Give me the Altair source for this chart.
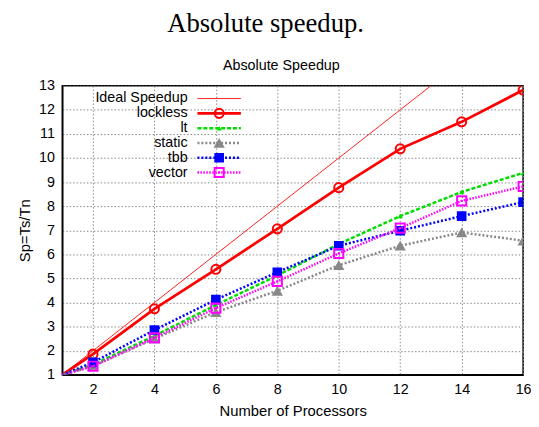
import altair as alt
import pandas as pd

# ---- data ----
procs = [1, 2, 4, 6, 8, 10, 12, 14, 16]
ideal = [1, 2, 4, 6, 8, 10, 12, 14, 16]
lockless = [1, 1.86, 3.74, 5.38, 7.06, 8.77, 10.38, 11.50, 12.82]
lt = [1, 1.42, 2.62, 3.90, 5.12, 6.43, 7.59, 8.59, 9.38]
static = [1, 1.36, 2.50, 3.60, 4.49, 5.55, 6.36, 6.91, 6.57]
tbb = [1, 1.52, 2.86, 4.12, 5.26, 6.36, 6.98, 7.59, 8.17]
vector = [1, 1.36, 2.54, 3.77, 4.88, 6.04, 7.09, 8.22, 8.82]

series_names = ["Ideal Speedup", "lockless", "lt", "static", "tbb", "vector"]
series_values = [ideal, lockless, lt, static, tbb, vector]
x_ticks = [2, 4, 6, 8, 10, 12, 14, 16]
y_ticks = list(range(1, 14))
titles = ["Absolute speedup.", "Absolute Speedup"]
x_title = "Number of Processors"
y_title = "Sp=Ts/Tn"

rows = []
for name, vals in zip(series_names, series_values):
    for p, v in zip(procs, vals):
        rows.append({"series": name, "procs": p, "speedup": v})
df = pd.DataFrame(rows)
legend_df = pd.DataFrame({"series": series_names})

W, H = 467, 293
FONT = "Liberation Sans"

styles = {
    "Ideal Speedup": dict(color="#ff2020", width=1, dash=None, shape=None),
    "lockless": dict(color="#ff0000", width=2.8, dash=None, shape="circle", filled=False, size=85, dot=True),
    "lt": dict(color="#00dd00", width=2.5, dash=[4, 2], shape="triangle-up", filled=True, size=28, dot=False),
    "static": dict(color="#888888", width=2.5, dash=[2, 2], shape="triangle-up", filled=True, size=130, dot=False),
    "tbb": dict(color="#0000ff", width=2.5, dash=[2, 2], shape="square", filled=True, size=95, dot=False),
    "vector": dict(color="#ff00ff", width=2.5, dash=[1.5, 1.5], shape="square", filled=False, size=85, dot=True),
}

xscale = alt.Scale(domain=[1, 16], nice=False, zero=False)
yscale = alt.Scale(domain=[1, 13], nice=False, zero=False)
legend_y = alt.Scale(type="point", domain=series_names, range=[13, 88], padding=0)

x_enc = alt.X("procs:Q", scale=xscale, title=x_title,
              axis=alt.Axis(values=x_ticks, grid=True, title=x_title, labelFlush=False))

layers = []

# axes + grid layer
axis_layer = alt.Chart(df).mark_point(opacity=0).encode(
    x=x_enc,
    y=alt.Y("speedup:Q", scale=yscale, title=y_title,
            axis=alt.Axis(values=y_ticks, grid=True, labelFlush=False)),
)
layers.append(axis_layer)

for name in series_names:
    st = styles[name]
    base = alt.Chart(df).transform_filter(alt.datum.series == name)
    line_kwargs = dict(color=st["color"], strokeWidth=st["width"], clip=True)
    if st["dash"]:
        line_kwargs["strokeDash"] = st["dash"]
    layers.append(base.mark_line(**line_kwargs).encode(
        x=x_enc,
        y=alt.Y("speedup:Q", scale=yscale, axis=None),
    ))
    # legend sample line
    leg = alt.Chart(legend_df).transform_filter(alt.datum.series == name)
    rule_kwargs = dict(color=st["color"], strokeWidth=st["width"])
    if st["dash"]:
        rule_kwargs["strokeDash"] = st["dash"]
    layers.append(leg.mark_rule(**rule_kwargs).encode(
        x=alt.value(137), x2=alt.value(181),
        y=alt.Y("series:N", scale=legend_y, axis=None),
    ))
    if st["shape"]:
        pkw = dict(shape=st["shape"], size=st["size"], filled=st["filled"],
                   color=st["color"], opacity=1, clip=True)
        if not st["filled"]:
            pkw["strokeWidth"] = 2
        layers.append(base.transform_filter(alt.datum.procs > 1).mark_point(**pkw).encode(
            x=x_enc,
            y=alt.Y("speedup:Q", scale=yscale, axis=None),
        ))
        layers.append(leg.mark_point(**pkw).encode(
            x=alt.value(159),
            y=alt.Y("series:N", scale=legend_y, axis=None),
        ))
        if st.get("dot"):
            dkw = dict(shape="square", size=4, filled=True, color=st["color"], opacity=1, clip=True)
            layers.append(base.transform_filter(alt.datum.procs > 1).mark_point(**dkw).encode(
                x=x_enc,
                y=alt.Y("speedup:Q", scale=yscale, axis=None),
            ))
            layers.append(leg.mark_point(**dkw).encode(
                x=alt.value(159),
                y=alt.Y("series:N", scale=legend_y, axis=None),
            ))

# legend labels
layers.append(alt.Chart(legend_df).mark_text(
    align="right", baseline="middle", font=FONT, fontSize=14.5, color="#000000"
).encode(
    x=alt.value(127),
    y=alt.Y("series:N", scale=legend_y, axis=None),
    text="series:N",
))

# titles
title_df = pd.DataFrame({"t": [titles[0]]})
sub_df = pd.DataFrame({"t": [titles[1]]})
layers.append(alt.Chart(title_df).mark_text(
    align="center", baseline="alphabetic", font="Liberation Serif", fontSize=27, color="#000000"
).encode(x=alt.value(206), y=alt.value(-54), text="t:N"))
layers.append(alt.Chart(sub_df).mark_text(
    align="center", baseline="alphabetic", font=FONT, fontSize=14.5, color="#000000"
).encode(x=alt.value(222), y=alt.value(-16), text="t:N"))

chart = alt.layer(*layers).resolve_scale(y="independent").properties(
    width=W, height=H,
    autosize=alt.AutoSizeParams(type="none"),
    padding={"left": 55, "top": 76, "right": 8, "bottom": 44},
).configure_view(
    stroke="#000000", strokeWidth=1.5
).configure_axis(
    labelFont=FONT, titleFont=FONT, labelFontSize=14.5, titleFontSize=15,
    labelColor="#000000", titleColor="#000000", titleFontWeight="normal",
    domainColor="#000000", domainWidth=1.5,
    ticks=False,
    gridColor="#888888", gridDash=[1.5, 2], gridWidth=1, gridOpacity=1,
).configure_axisX(
    labelPadding=8, titlePadding=8
).configure_axisY(
    labelPadding=8, titlePadding=6
)

chart.save("out.html", embed_options={"renderer": "svg", "actions": False})
